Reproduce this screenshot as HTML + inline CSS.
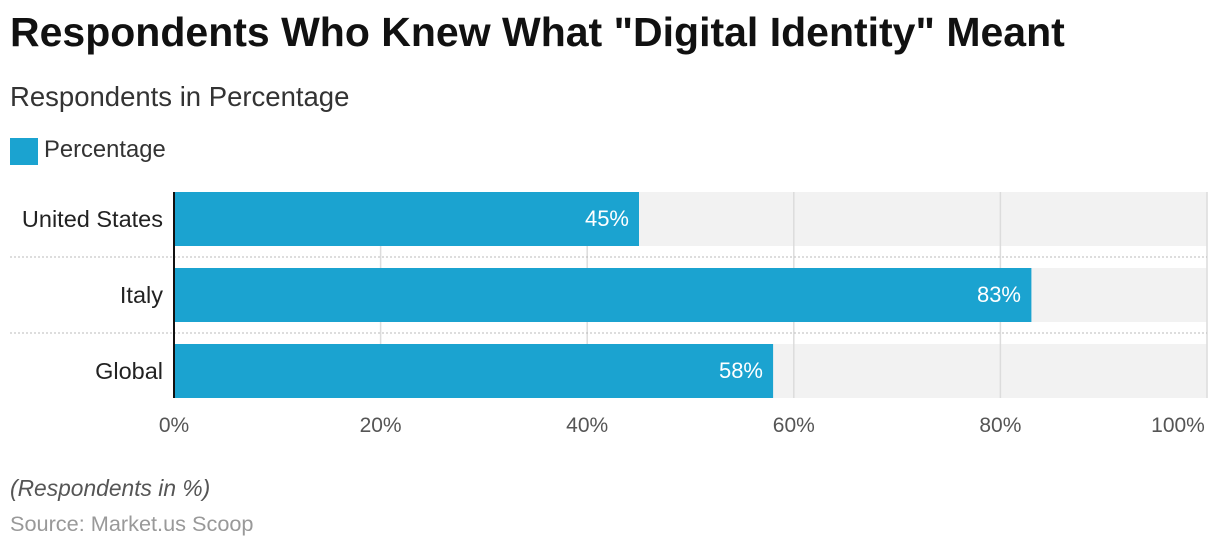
<!DOCTYPE html>
<html><head><meta charset="utf-8"><style>
body{margin:0;width:1220px;height:550px;background:#fff;font-family:"Liberation Sans",Arial,sans-serif;position:relative;overflow:hidden}
.a{position:absolute;white-space:nowrap}
</style></head><body>
<div class="a" style="left:10px;top:9px;font-size:41px;font-weight:bold;color:#111">Respondents Who Knew What "Digital Identity" Meant</div>
<div class="a" style="left:10px;top:81px;font-size:27.5px;color:#333">Respondents in Percentage</div>
<div class="a" style="left:10px;top:138px;width:28px;height:27px;background:#1ba3d0"></div>
<div class="a" style="left:44px;top:136px;font-size:23.8px;color:#333">Percentage</div>
<svg class="a" style="left:0;top:0" width="1220" height="550">
<g fill="#f2f2f2"><rect x="174" y="192" width="1033" height="54"/><rect x="174" y="268" width="1033" height="54"/><rect x="174" y="344" width="1033" height="54"/></g>
<g stroke="#dcdcdc" stroke-width="1.5"><line x1="380.6" y1="192" x2="380.6" y2="398"/><line x1="587.2" y1="192" x2="587.2" y2="398"/><line x1="793.8" y1="192" x2="793.8" y2="398"/><line x1="1000.4" y1="192" x2="1000.4" y2="398"/><line x1="1207" y1="192" x2="1207" y2="398"/></g>
<g stroke="#bbb" stroke-dasharray="2,2"><line x1="10" y1="257" x2="1207" y2="257"/><line x1="10" y1="333" x2="1207" y2="333"/></g>
<g fill="#1ba3d0"><rect x="174" y="192" width="465" height="54"/><rect x="174" y="268" width="857.4" height="54"/><rect x="174" y="344" width="599.1" height="54"/></g>
<line x1="174" y1="192" x2="174" y2="398" stroke="#111" stroke-width="2"/>
<g font-size="22" fill="#fff" text-anchor="end" font-family="Liberation Sans,Arial,sans-serif"><text x="629" y="226">45%</text><text x="1021" y="302">83%</text><text x="763" y="378">58%</text></g>
<g font-size="23.5" fill="#222" text-anchor="end" font-family="Liberation Sans,Arial,sans-serif"><text x="163" y="227">United States</text><text x="163" y="303">Italy</text><text x="163" y="379">Global</text></g>
<g font-size="21" fill="#555" text-anchor="middle" font-family="Liberation Sans,Arial,sans-serif"><text x="174" y="432">0%</text><text x="380.6" y="432">20%</text><text x="587.2" y="432">40%</text><text x="793.8" y="432">60%</text><text x="1000.4" y="432">80%</text><text x="1178" y="432">100%</text></g>
</svg>
<div class="a" style="left:10px;top:475px;font-size:22.8px;font-style:italic;color:#555">(Respondents in %)</div>
<div class="a" style="left:10px;top:511px;font-size:21.7px;color:#999">Source: Market.us Scoop</div>
</body></html>
